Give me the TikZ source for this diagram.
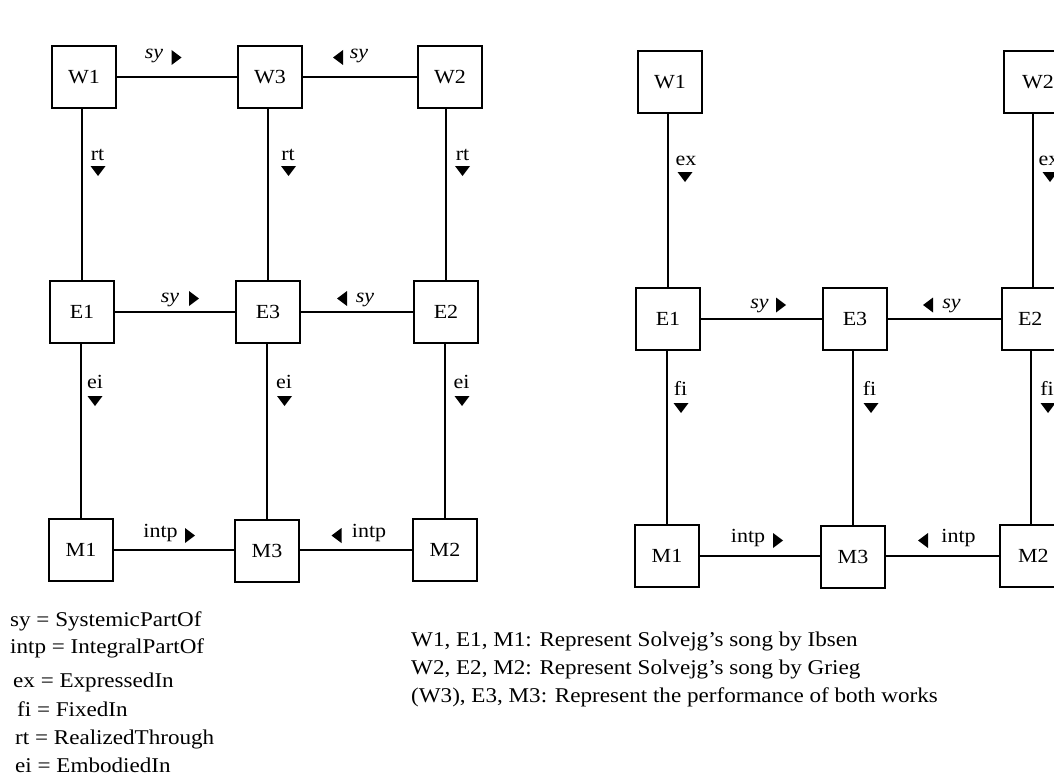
\documentclass[tikz,border=0pt]{standalone}
\usepackage{fontspec}
\setmainfont[FakeStretch=1.1]{Liberation Serif}
\begin{document}
\begin{tikzpicture}[x=1pt,y=-1pt,
  box/.style={draw, line width=2pt, minimum width=64pt, minimum height=62pt, inner sep=0pt, font=\fontsize{20}{24}\selectfont},
  rbox/.style={box, anchor=west, text width=50pt, align=left, inner xsep=18pt},
  conn/.style={line width=2pt},
  lbl/.style={inner sep=0pt, anchor=base, font=\fontsize{20}{24}\selectfont},
  sylbl/.style={inner sep=0pt, anchor=base, font=\fontsize{20}{24}\selectfont\itshape},
  txt/.style={inner sep=0pt, anchor=base west, font=\fontsize{21}{28}\selectfont},
  triR/.pic={\fill (-5,-7.5) -- (5,0) -- (-5,7.5) -- cycle;},
  triL/.pic={\fill (5,-7.5) -- (-5,0) -- (5,7.5) -- cycle;},
  triD/.pic={\fill (-7.5,-5) -- (7.5,-5) -- (0,5) -- cycle;}
]
\useasboundingbox (0,0) rectangle (1054,776);

% ---------- left diagram ----------
\node[box] (W1) at (84,77) {W1};
\node[box] (W3) at (270,77) {W3};
\node[box] (W2) at (450,77) {W2};
\node[box] (E1) at (82,312) {E1};
\node[box] (E3) at (268,312) {E3};
\node[box] (E2) at (446,312) {E2};
\node[box] (M1) at (81,550) {M1};
\node[box] (M3) at (267,551) {M3};
\node[box] (M2) at (445,550) {M2};

\draw[conn] (W1) -- (W3);
\draw[conn] (W2) -- (W3);
\draw[conn] (W1.south -| E1) -- (E1);
\draw[conn] (W3.south -| E3) -- (E3);
\draw[conn] (W2.south -| E2) -- (E2);
\draw[conn] (E1) -- (E3);
\draw[conn] (E2) -- (E3);
\draw[conn] (E1.south -| M1) -- (M1);
\draw[conn] (E3.south -| M3) -- (M3);
\draw[conn] (E2.south -| M2) -- (M2);
\draw[conn] (M1) -- (M1 -| M3.west);
\draw[conn] (M2) -- (M2 -| M3.east);

\node[sylbl] (lw1) at (154,58.5) {sy};
\pic at (176.5,57.5) {triR};
\node[sylbl] (lw2) at (359,58.5) {sy};
\pic at (338,57.5) {triL};

\node[lbl] (lrt1) at (97.5,160) {rt};
\pic at (98,171) {triD};
\node[lbl] (lrt2) at (288,160) {rt};
\pic at (288.5,171) {triD};
\node[lbl] (lrt3) at (462.5,160) {rt};
\pic at (462.5,171) {triD};

\node[sylbl] (le1) at (170,302) {sy};
\pic at (194,298.5) {triR};
\node[sylbl] (le2) at (365,302) {sy};
\pic at (342,298.5) {triL};

\node[lbl] (lei1) at (95,388) {ei};
\pic at (95,401) {triD};
\node[lbl] (lei2) at (284,388) {ei};
\pic at (284.5,401) {triD};
\node[lbl] (lei3) at (461.5,388) {ei};
\pic at (462,401) {triD};

\node[lbl] (lm1) at (160.5,537) {intp};
\pic at (190,535.5) {triR};
\node[lbl] (lm2) at (369,537) {intp};
\pic at (336.5,535.5) {triL};

% ---------- right diagram ----------
\node[box] (rW1) at (670,82) {W1};
\node[rbox] (rW2) at (1003,82) {W2};
\node[box] (rE1) at (668,319) {E1};
\node[box] (rE3) at (855,319) {E3};
\node[rbox, inner xsep=16pt] (rE2) at (1001,319) {E2};
\node[box] (rM1) at (667,556) {M1};
\node[box] (rM3) at (853,557) {M3};
\node[rbox] (rM2) at (999,556) {M2};
\coordinate (rc1) at (1033,0);
\coordinate (rc2) at (1031,0);

\draw[conn] (rW1.south -| rE1) -- (rE1);
\draw[conn] (rW2.south -| rc1) -- (rE2.north -| rc1);
\draw[conn] (rE1) -- (rE3);
\draw[conn] (rE2) -- (rE3);
\draw[conn] (rE1.south -| rM1) -- (rM1);
\draw[conn] (rE3.south -| rM3) -- (rM3);
\draw[conn] (rE2.south -| rc2) -- (rM2.north -| rc2);
\draw[conn] (rM1) -- (rM1 -| rM3.west);
\draw[conn] (rM2) -- (rM2 -| rM3.east);

\node[lbl] (rex1) at (686,165) {ex};
\pic at (685,177) {triD};
\node[lbl] (rex2) at (1049,165) {ex};
\pic at (1050,177) {triD};

\node[sylbl] (rsy1) at (759.5,308) {sy};
\pic at (781,305) {triR};
\node[sylbl] (rsy2) at (951.5,308) {sy};
\pic at (928,305) {triL};

\node[lbl] (rfi1) at (680.5,395) {fi};
\pic at (681,408) {triD};
\node[lbl] (rfi2) at (869.5,395) {fi};
\pic at (871,408) {triD};
\node[lbl] (rfi3) at (1047,395) {fi};
\pic at (1048,408) {triD};

\node[lbl] (rm1) at (748,542) {intp};
\pic at (778,540.5) {triR};
\node[lbl] (rm2) at (958.5,542) {intp};
\pic at (923,540.5) {triL};

% ---------- legend ----------
\node[txt] (g1) at (10,626) {sy = SystemicPartOf};
\node[txt] (g2) at (10,653) {intp = IntegralPartOf};
\node[txt] (g3) at (13,687) {ex = ExpressedIn};
\node[txt] (g4) at (17,716) {fi = FixedIn};
\node[txt] (g5) at (15,744) {rt = RealizedThrough};
\node[txt] (g6) at (15,772) {ei = EmbodiedIn};

\node[txt] (t1) at (411,646) {W1, E1, M1: Represent Solvejg's song by Ibsen};
\node[txt] (t2) at (411,674) {W2, E2, M2: Represent Solvejg's song by Grieg};
\node[txt] (t3) at (411,702) {(W3), E3, M3: Represent the performance of both works};
\end{tikzpicture}
\end{document}
